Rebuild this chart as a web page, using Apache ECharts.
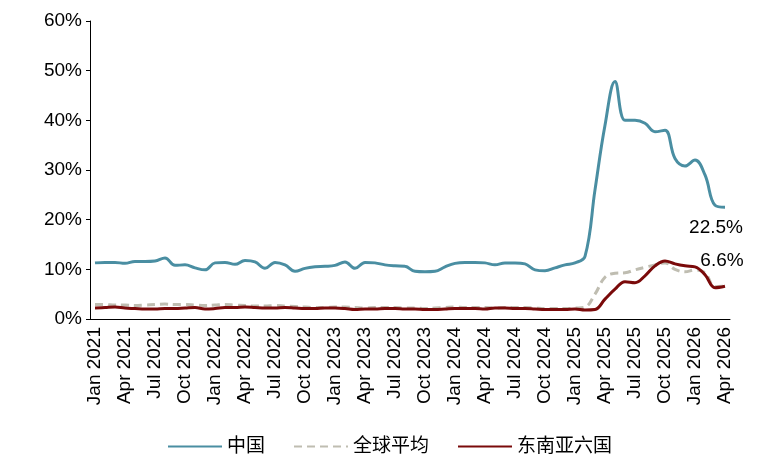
<!DOCTYPE html>
<html>
<head>
<meta charset="utf-8">
<script src="https://cdn.jsdelivr.net/npm/echarts@6/dist/echarts.min.js"></script>
<style>
  html, body { margin: 0; padding: 0; background: #fff; }
  #main { width: 758px; height: 473px; }
</style>
</head>
<body>
<div id="main"></div>
<script>
// 月份类目 Jan 2021 - Apr 2026
var categories = [
    'Jan 2021','Feb 2021','Mar 2021','Apr 2021','May 2021','Jun 2021','Jul 2021','Aug 2021','Sep 2021','Oct 2021','Nov 2021','Dec 2021',
    'Jan 2022','Feb 2022','Mar 2022','Apr 2022','May 2022','Jun 2022','Jul 2022','Aug 2022','Sep 2022','Oct 2022','Nov 2022','Dec 2022',
    'Jan 2023','Feb 2023','Mar 2023','Apr 2023','May 2023','Jun 2023','Jul 2023','Aug 2023','Sep 2023','Oct 2023','Nov 2023','Dec 2023',
    'Jan 2024','Feb 2024','Mar 2024','Apr 2024','May 2024','Jun 2024','Jul 2024','Aug 2024','Sep 2024','Oct 2024','Nov 2024','Dec 2024',
    'Jan 2025','Feb 2025','Mar 2025','Apr 2025','May 2025','Jun 2025','Jul 2025','Aug 2025','Sep 2025','Oct 2025','Nov 2025','Dec 2025',
    'Jan 2026','Feb 2026','Mar 2026','Apr 2026'
];

// 中国
var china = [
    11.3, 11.4, 11.4, 11.2, 11.6, 11.6, 11.7, 12.3, 10.8, 10.9, 10.3, 9.9,
    11.3, 11.4, 11.0, 11.8, 11.5, 10.2, 11.4, 10.9, 9.6, 10.2, 10.5, 10.6,
    10.8, 11.5, 10.2, 11.4, 11.3, 10.9, 10.7, 10.6, 9.6, 9.5, 9.6, 10.5,
    11.2, 11.4, 11.4, 11.3, 10.9, 11.3, 11.3, 11.1, 9.9, 9.7, 10.3, 10.9,
    11.3, 12.6, 26.0, 39.0, 47.8, 40.0, 40.0, 39.4, 37.7, 38.0, 32.3, 30.8,
    32.0, 29.0, 22.9, 22.5
];

// 全球平均
var globalAvg = [
    2.9, 2.9, 2.8, 2.8, 2.7, 2.8, 2.9, 3.0, 2.9, 2.9, 2.8, 2.7,
    2.8, 2.9, 2.8, 2.7, 2.6, 2.6, 2.7, 2.6, 2.5, 2.4, 2.3, 2.3,
    2.4, 2.4, 2.3, 2.2, 2.3, 2.3, 2.3, 2.2, 2.2, 2.1, 2.2, 2.3,
    2.4, 2.3, 2.3, 2.3, 2.2, 2.3, 2.3, 2.3, 2.2, 2.1, 2.1, 2.1,
    2.2, 2.4, 5.0, 8.4, 9.2, 9.3, 9.9, 10.4, 10.9, 11.3, 10.0, 9.5,
    9.9, 9.3, 6.5, 6.6
];

// 东南亚六国
var sea6 = [
    2.2, 2.3, 2.4, 2.2, 2.1, 2.0, 2.0, 2.1, 2.1, 2.2, 2.3, 2.0,
    2.1, 2.3, 2.3, 2.4, 2.3, 2.2, 2.2, 2.3, 2.2, 2.1, 2.1, 2.2,
    2.2, 2.1, 1.9, 2.0, 2.0, 2.1, 2.1, 2.0, 2.0, 1.9, 1.9, 2.0,
    2.1, 2.1, 2.1, 2.0, 2.2, 2.2, 2.1, 2.1, 2.0, 1.9, 1.9, 1.9,
    2.0, 1.8, 1.9, 4.0, 6.0, 7.5, 7.3, 8.7, 10.7, 11.7, 11.1, 10.7,
    10.5, 8.9, 6.3, 6.6
];

var FONT = 'Liberation Sans, Arial, Noto Sans CJK SC, sans-serif';

// 线末端数值标签
function endLabel(offset) {
    return {
        show: true,
        distance: 0,
        align: 'center',
        verticalAlign: 'middle',
        offset: offset,
        formatter: function (p) { return p.value.toFixed(1) + '%'; },
        fontSize: 19,
        fontFamily: FONT,
        color: '#000'
    };
}

var myChart = echarts.init(document.getElementById('main'));
myChart.setOption({
    animation: false,
    grid: { left: 90, right: 28, top: 21, bottom: 154 },
    legend: {
        left: 162,
        top: 432,
        itemWidth: 54,
        itemHeight: 12,
        itemGap: 28,
        itemStyle: { opacity: 0 },
        textStyle: { fontSize: 19, fontFamily: FONT, color: '#000' },
        data: ['中国', '全球平均', '东南亚六国']
    },
    xAxis: {
        type: 'category',
        data: categories,
        boundaryGap: true,
        axisLine: { lineStyle: { color: '#000', width: 1 } },
        axisTick: { interval: 2, length: 5, lineStyle: { color: '#000' } },
        axisLabel: {
            interval: 2,
            rotate: 90,
            fontSize: 19,
            fontFamily: FONT,
            color: '#000',
            margin: 8
        }
    },
    yAxis: {
        type: 'value',
        min: 0,
        max: 60,
        interval: 10,
        splitLine: { show: false },
        axisLine: { show: true, lineStyle: { color: '#000', width: 1 } },
        axisTick: { show: true, inside: false, length: 4, lineStyle: { color: '#000' } },
        axisLabel: {
            formatter: '{value}%',
            fontSize: 19,
            fontFamily: FONT,
            color: '#000',
            margin: 8
        }
    },
    series: [
        {
            name: '中国',
            type: 'line',
            data: china,
            smooth: 0.4,
            symbol: 'none',
            lineStyle: { color: '#4A8EA2', width: 3 },
            itemStyle: { color: '#4A8EA2' },
            endLabel: endLabel([-9, 21]),
            z: 3
        },
        {
            name: '全球平均',
            type: 'line',
            data: globalAvg,
            smooth: 0.4,
            symbol: 'none',
            lineStyle: { color: '#BFBDB1', width: 3, type: [8, 5] },
            itemStyle: { color: '#BFBDB1' },
            z: 2
        },
        {
            name: '东南亚六国',
            type: 'line',
            data: sea6,
            smooth: 0.4,
            symbol: 'none',
            lineStyle: { color: '#7A0A0A', width: 3 },
            itemStyle: { color: '#7A0A0A' },
            endLabel: endLabel([-3, -25]),
            z: 4
        }
    ]
});
</script>
</body>
</html>
